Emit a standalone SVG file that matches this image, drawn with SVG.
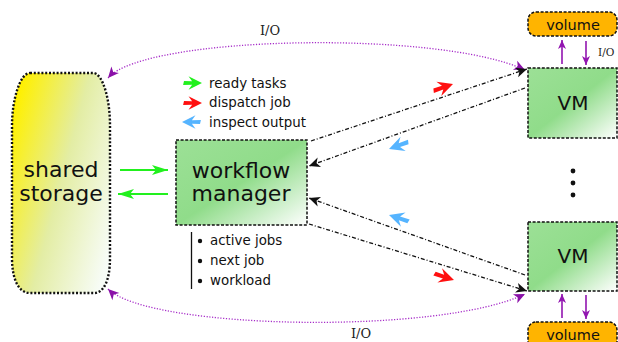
<svg xmlns="http://www.w3.org/2000/svg" width="618" height="342" viewBox="0 0 618 342">
<style>
.sans{font-family:"DejaVu Sans","Liberation Sans",sans-serif;fill:#111}
.serif{font-family:"DejaVu Serif","Liberation Serif",serif;fill:#222}
.big{font-size:22px}
.vm{font-size:20px}
.small{font-size:13.4px}
.box{stroke:#111;stroke-width:1.5;stroke-dasharray:3 1.6}
.dd{fill:none;stroke:#111;stroke-width:1.3;stroke-dasharray:4 2 1 2}
.io{fill:none;stroke:#a62cc8;stroke-width:1.3;stroke-dasharray:1.2 1.6}
.pv{fill:none;stroke:#9215b0;stroke-width:1.6}
.gr{fill:none;stroke:#22f01e;stroke-width:1.8}
</style>
<defs>
<linearGradient id="yel" x1="0" y1="0.2" x2="1" y2="0.8">
<stop offset="0" stop-color="#fff000"/>
<stop offset="0.5" stop-color="#e3eda4"/>
<stop offset="1" stop-color="#f7fcf6"/>
</linearGradient>
<linearGradient id="grn" x1="0" y1="0" x2="1" y2="1">
<stop offset="0" stop-color="#9ce096"/>
<stop offset="0.5" stop-color="#90dc8a"/>
<stop offset="1" stop-color="#ffffff"/>
</linearGradient>
<marker id="mk" viewBox="-12 -6 14 12" refX="0" refY="0" markerWidth="14" markerHeight="12" markerUnits="userSpaceOnUse" orient="auto">
<path d="M0,0 L-11,-5 L-8,0 L-11,5 Z" fill="#111"/>
</marker>
<marker id="mp" viewBox="-12 -6 14 12" refX="0" refY="0" markerWidth="14" markerHeight="12" markerUnits="userSpaceOnUse" orient="auto-start-reverse">
<path d="M0,0 L-11,-5 L-8,0 L-11,5 Z" fill="#8a10a8"/>
</marker>
<marker id="mv" viewBox="-10 -5 12 10" refX="0" refY="0" markerWidth="12" markerHeight="10" markerUnits="userSpaceOnUse" orient="auto">
<path d="M0,0 L-9,-4 L-6.5,0 L-9,4 Z" fill="#9215b0"/>
</marker>
<marker id="mg" viewBox="-18 -6 20 12" refX="0" refY="0" markerWidth="20" markerHeight="12" markerUnits="userSpaceOnUse" orient="auto">
<path d="M0,0 L-16,-5 L-12,0 L-16,5 Z" fill="#22f01e"/>
</marker>
<path id="arw" d="M0,0 L-15,-7.5 L-11,-2 L-20,-2.2 L-21,2.2 L-11,2 L-15,7.5 Z"/>
</defs>

<g id="connectors">
<path class="io" d="M108,78 C145,35 440,30 525,70" marker-start="url(#mp)" marker-end="url(#mp)"/>
<path class="io" d="M108,289 C150,330 440,335 525,294" marker-start="url(#mp)" marker-end="url(#mp)"/>
<text class="serif" x="270" y="35" font-size="13" text-anchor="middle">I/O</text>
<text class="serif" x="361" y="338" font-size="13" text-anchor="middle">I/O</text>

<line class="gr" x1="120" y1="170" x2="168" y2="170" marker-end="url(#mg)"/>
<line class="gr" x1="168" y1="194" x2="118" y2="194" marker-end="url(#mg)"/>

<line class="dd" x1="311" y1="141" x2="527" y2="69" marker-end="url(#mk)"/>
<line class="dd" x1="525" y1="88" x2="309" y2="166" marker-end="url(#mk)"/>
<line class="dd" x1="525" y1="275" x2="309" y2="198" marker-end="url(#mk)"/>
<line class="dd" x1="309" y1="224" x2="527" y2="291" marker-end="url(#mk)"/>

<use href="#arw" fill="#ff1010" transform="translate(453,84) rotate(-19)"/>
<use href="#arw" fill="#55b4ff" transform="translate(389,149) rotate(160)"/>
<use href="#arw" fill="#55b4ff" transform="translate(389,215) rotate(-162)"/>
<use href="#arw" fill="#ff1010" transform="translate(454,280) rotate(18)"/>

<line class="pv" x1="562" y1="64" x2="562" y2="40" marker-end="url(#mv)"/>
<line class="pv" x1="586" y1="41" x2="586" y2="65" marker-end="url(#mv)"/>
<text class="serif" x="598" y="56" font-size="10.5">I/O</text>
<line class="pv" x1="562" y1="318" x2="562" y2="294" marker-end="url(#mv)"/>
<line class="pv" x1="586" y1="295" x2="586" y2="319" marker-end="url(#mv)"/>
</g>

<g id="legend">
<use href="#arw" fill="#22f01e" transform="translate(202,83) scale(0.9)"/>
<use href="#arw" fill="#ff1010" transform="translate(202,103) scale(0.9)"/>
<use href="#arw" fill="#55b4ff" transform="translate(182,122) rotate(180) scale(0.9)"/>
<text class="sans small" x="209" y="88">ready tasks</text>
<text class="sans small" x="209" y="107">dispatch job</text>
<text class="sans small" x="209" y="127">inspect output</text>
</g>

<g id="shared-storage">
<path d="M30,73 L93,73 C103,73 110,100 110,125 L110,258 C110,280 104,293 94,293 L30,293 C18,293 12,278 12,258 L12,125 C12,100 20,73 30,73 Z" fill="url(#yel)" stroke="#111" stroke-width="2.4" stroke-dasharray="2 1.8"/>
<text class="sans big" x="61" y="177" text-anchor="middle">shared</text>
<text class="sans big" x="61" y="201" text-anchor="middle">storage</text>
</g>

<g id="workflow-manager">
<rect x="176" y="140" width="131" height="85" fill="url(#grn)" class="box"/>
<text class="sans big" x="241" y="178" text-anchor="middle">workflow</text>
<text class="sans big" x="241" y="201" text-anchor="middle">manager</text>
</g>

<g id="manager-state">
<line x1="191.5" y1="232" x2="191.5" y2="289" stroke="#111" stroke-width="1.3"/>
<circle cx="200" cy="241" r="2.2" fill="#111"/>
<circle cx="200" cy="261" r="2.2" fill="#111"/>
<circle cx="200" cy="281" r="2.2" fill="#111"/>
<text class="sans small" x="210" y="245">active jobs</text>
<text class="sans small" x="210" y="265">next job</text>
<text class="sans small" x="210" y="285">workload</text>
</g>

<g id="vm-top">
<rect x="528" y="68" width="89" height="70" fill="url(#grn)" class="box" stroke-width="1.2" stroke-dasharray="2 1.2"/>
<text class="sans vm" x="573" y="110" text-anchor="middle">VM</text>
</g>

<g id="volume-top">
<rect x="528" y="12" width="89" height="24" rx="8" fill="#ffb400" class="box" stroke-width="1.2" stroke-dasharray="2.5 1.3"/>
<text class="sans" x="573" y="30" font-size="14.5" text-anchor="middle">volume</text>
</g>

<g id="ellipsis">
<circle cx="573" cy="171" r="2.4" fill="#111"/>
<circle cx="573" cy="183" r="2.4" fill="#111"/>
<circle cx="573" cy="195" r="2.4" fill="#111"/>
</g>

<g id="vm-bottom">
<rect x="528" y="222" width="89" height="69" fill="url(#grn)" class="box" stroke-width="1.2" stroke-dasharray="2 1.2"/>
<text class="sans vm" x="573" y="263" text-anchor="middle">VM</text>
</g>

<g id="volume-bottom">
<rect x="528" y="322" width="89" height="28" rx="8" fill="#ffb400" class="box" stroke-width="1.2" stroke-dasharray="2.5 1.3"/>
<text class="sans" x="573" y="340" font-size="14.5" text-anchor="middle">volume</text>
</g>
</svg>
